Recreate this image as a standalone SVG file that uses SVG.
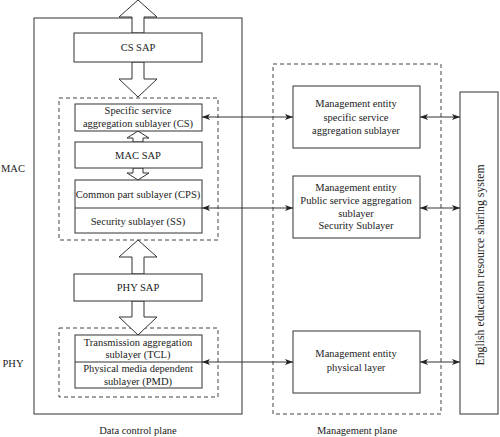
<svg xmlns="http://www.w3.org/2000/svg" width="500" height="437" viewBox="0 0 500 437">
<style>
.box{fill:#fff;stroke:#333;stroke-width:1}
.dash{fill:none;stroke:#444;stroke-width:1;stroke-dasharray:4,3}
.harrow{fill:#fff;stroke:#333;stroke-width:1}
.t{font-family:"Liberation Serif","Times New Roman",serif;font-size:10.5px;fill:#222;text-anchor:middle}
.con{stroke:#333;stroke-width:1;fill:none;marker-start:url(#ah);marker-end:url(#ah)}
</style>
<defs>
<marker id="ah" markerUnits="userSpaceOnUse" markerWidth="9" markerHeight="7" refX="8" refY="3" orient="auto-start-reverse">
<path d="M0,0 L8,3 L0,6 L2,3 z" fill="#222"/>
</marker>
</defs>
<rect id="bg" x="0" y="0" width="500" height="437" fill="#fff"/>

<g id="data-control-plane">
<rect class="box" x="34" y="18" width="208" height="396" fill="none"/>
<text class="t" x="138" y="434">Data control plane</text>
</g>

<g id="mac-group">
<rect class="dash" x="59" y="98" width="159" height="142"/>
<text class="t" x="13" y="172">MAC</text>
</g>

<g id="phy-group">
<rect class="dash" x="59" y="328" width="159" height="69"/>
<text class="t" x="13" y="367">PHY</text>
</g>

<g id="hollow-arrows">
<polygon class="harrow" points="132,33 132,17 119,17 138,0 157,17 144,17 144,33"/>
<polygon class="harrow" points="132,62 132,79 119,79 138,97 157,79 144,79 144,62"/>
<polygon class="harrow" points="133,142 133,138 127,138 138,131 149,138 143,138 143,142"/>
<polygon class="harrow" points="133,168 133,173 127,173 138,180 149,173 143,173 143,168"/>
<polygon class="harrow" points="132,274 132,257 119,257 138,240 157,257 144,257 144,274"/>
<polygon class="harrow" points="132,301 132,317 119,317 138,335 157,317 144,317 144,301"/>
</g>

<g id="cs-sap">
<rect class="box" x="74" y="33" width="128" height="29"/>
<text class="t" x="138" y="51">CS SAP</text>
</g>

<g id="cs">
<rect class="box" x="75" y="104" width="127" height="27"/>
<text class="t" x="138" y="114">Specific service</text>
<text class="t" x="138" y="127">aggregation sublayer (CS)</text>
</g>

<g id="mac-sap">
<rect class="box" x="75" y="142" width="127" height="26"/>
<text class="t" x="138" y="159">MAC SAP</text>
</g>

<g id="cps-ss">
<rect class="box" x="75" y="180" width="127" height="53"/>
<line x1="75" y1="208" x2="202" y2="208" stroke="#333"/>
<text class="t" x="138" y="198">Common part sublayer (CPS)</text>
<text class="t" x="138" y="225">Security sublayer (SS)</text>
</g>

<g id="phy-sap">
<rect class="box" x="74" y="274" width="128" height="27"/>
<text class="t" x="138" y="291">PHY SAP</text>
</g>

<g id="tcl-pmd">
<rect class="box" x="75" y="335" width="127" height="53"/>
<line x1="75" y1="362" x2="202" y2="362" stroke="#333"/>
<text class="t" x="138" y="346">Transmission aggregation</text>
<text class="t" x="138" y="358">sublayer (TCL)</text>
<text class="t" x="138" y="372">Physical media dependent</text>
<text class="t" x="138" y="385">sublayer (PMD)</text>
</g>

<g id="management-plane">
<rect class="dash" x="273" y="64" width="168" height="350"/>
<text class="t" x="357" y="434">Management plane</text>
</g>

<g id="me-cs">
<rect class="box" x="293" y="86" width="127" height="62"/>
<text class="t" x="356" y="107">Management entity</text>
<text class="t" x="356" y="121">specific service</text>
<text class="t" x="356" y="134">aggregation sublayer</text>
</g>

<g id="me-cps">
<rect class="box" x="293" y="176" width="127" height="62"/>
<text class="t" x="356" y="191">Management entity</text>
<text class="t" x="356" y="204">Public service aggregation</text>
<text class="t" x="356" y="217">sublayer</text>
<text class="t" x="356" y="229">Security Sublayer</text>
</g>

<g id="me-phy">
<rect class="box" x="293" y="331" width="127" height="62"/>
<text class="t" x="356" y="357">Management entity</text>
<text class="t" x="356" y="371">physical layer</text>
</g>

<g id="english-system">
<rect class="box" x="460" y="92" width="38" height="322"/>
<text class="t" style="font-size:11.8px" transform="translate(484,265) rotate(-90)" x="0" y="0">English education resource sharing system</text>
</g>

<g id="connectors">
<line class="con" x1="202" y1="117" x2="293" y2="117"/>
<line class="con" x1="202" y1="208" x2="293" y2="208"/>
<line class="con" x1="202" y1="362" x2="293" y2="362"/>
<line class="con" x1="420" y1="117" x2="460" y2="117"/>
<line class="con" x1="420" y1="208" x2="460" y2="208"/>
<line class="con" x1="420" y1="362" x2="460" y2="362"/>
</g>
</svg>
